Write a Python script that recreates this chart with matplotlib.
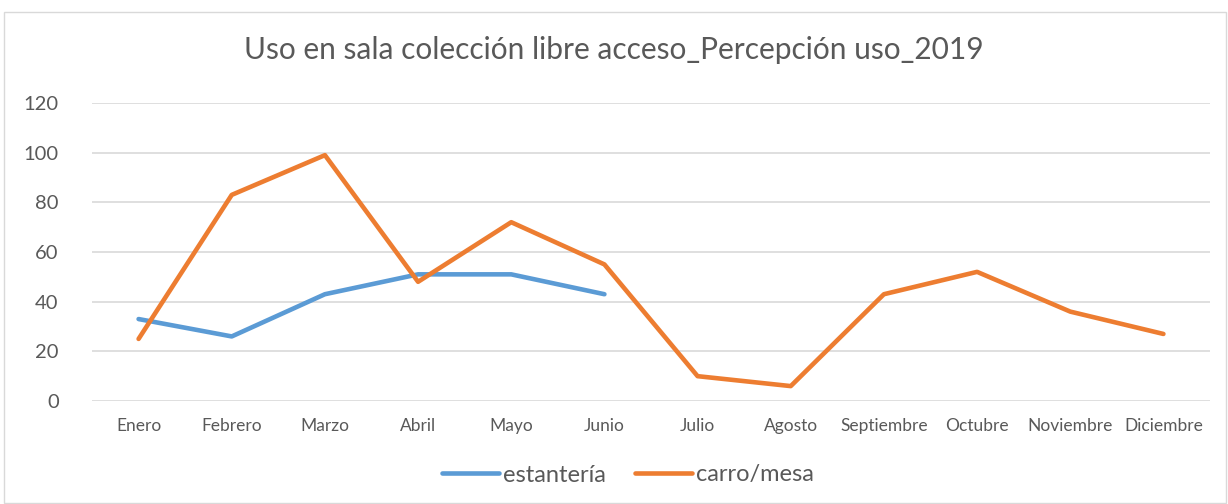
import matplotlib
matplotlib.use("Agg")
import matplotlib.pyplot as plt
from matplotlib.patches import Rectangle

months = ["Enero", "Febrero", "Marzo", "Abril", "Mayo", "Junio", "Julio",
          "Agosto", "Septiembre", "Octubre", "Noviembre", "Diciembre"]
estanteria = [33, 26, 43, 51, 51, 43]
carro_mesa = [25, 83, 99, 48, 72, 55, 10, 6, 43, 52, 36, 27]
yticks = [0, 20, 40, 60, 80, 100, 120]

plt.rcParams['font.family'] = ['Lato', 'DejaVu Sans']
txt = '#595959'

fig = plt.figure(figsize=(12.28, 5.04), dpi=100)
fig.patches.append(Rectangle((4/1228, 1/504), 1222/1228, 491/504, transform=fig.transFigure,
                             fill=False, edgecolor='#D9D9D9', linewidth=1))
ax = fig.add_axes([92/1228, 1-401/504, (1210-92)/1228, (401-103)/504])

x = list(range(len(months)))
ax.plot(x[:len(estanteria)], estanteria, color='#5B9BD5', lw=3.3, solid_capstyle='round',
        solid_joinstyle='round', label='estantería')
ax.plot(x, carro_mesa, color='#ED7D31', lw=3.3, solid_capstyle='round',
        solid_joinstyle='round', label='carro/mesa')

ax.set_xlim(-0.5, 11.5)
ax.set_ylim(0, 120)
ax.set_yticks(yticks)
ax.set_yticklabels([str(v) for v in yticks], fontsize=14.5, color=txt)
ax.set_xticks(x)
ax.set_xticklabels(months, fontsize=12.5, color=txt)
ax.tick_params(axis='both', length=0)
ax.tick_params(axis='y', pad=24)
ax.tick_params(axis='x', pad=12)
for s in ax.spines.values():
    s.set_visible(False)
ax.grid(axis='y', color='#D9D9D9', lw=1.2)
ax.set_axisbelow(True)

fig.text(0.5, 1-50/504, "Uso en sala colección libre acceso_Percepción uso_2019",
         ha='center', va='center', fontsize=21.5, color=txt)

fig.legend(loc='center', bbox_to_anchor=(628/1228, 1-475/504), ncol=2, frameon=False,
           fontsize=17, handlelength=2.4, handletextpad=0.17, columnspacing=1.27,
           labelcolor=txt)

fig.savefig("out.png", dpi=100)
